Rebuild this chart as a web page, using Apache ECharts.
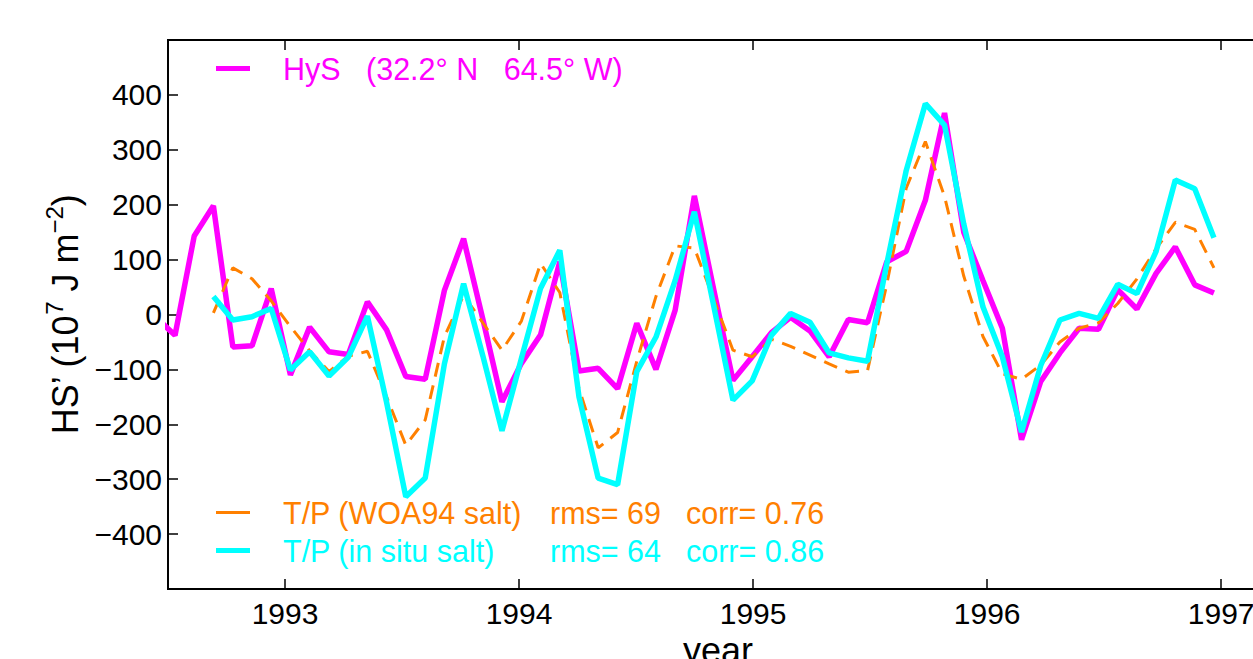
<!DOCTYPE html>
<html><head><meta charset="utf-8">
<script src="https://cdn.jsdelivr.net/npm/echarts@6/dist/echarts.min.js"></script>
<style>html,body{margin:0;padding:0;background:#fff;overflow:hidden}#c{width:1290px;height:659px}</style>
</head><body><div id="c"></div>
<script>
// sample times (decimal years)
const times = [1992.448, 1992.530, 1992.612, 1992.694, 1992.777, 1992.859, 1992.941,
  1993.023, 1993.105, 1993.188, 1993.270, 1993.352, 1993.434, 1993.516, 1993.599, 1993.681, 1993.763, 1993.845, 1993.927,
  1994.010, 1994.092, 1994.174, 1994.256, 1994.338, 1994.421, 1994.503, 1994.585, 1994.667, 1994.749, 1994.832, 1994.914, 1994.996,
  1995.078, 1995.160, 1995.243, 1995.325, 1995.407, 1995.489, 1995.571, 1995.654, 1995.736, 1995.818, 1995.900, 1995.982,
  1996.065, 1996.147, 1996.229, 1996.311, 1996.393, 1996.476, 1996.558, 1996.640, 1996.722, 1996.804, 1996.887, 1996.969];
// HyS (32.2N 64.5W)
const hys = [-5, -38, 143, 198, -59, -57, 47, -110, -23, -68, -73, 23, -28, -113, -118, 44, 138, -8, -159, -89, -37, 96,
  -103, -98, -135, -16, -100, 8, 216, 45, -120, -77, -33, -5, -30, -77, -9, -15, 96, 115, 208, 367, 150, 62, -25, -228,
  -122, -70, -25, -27, 45, 10, 75, 123, 54, 39];
// T/P (WOA94 salt)
const tpWoa = [null, null, null, 3, 85, 65, 25, -22, -66, -104, -76, -67, -150, -238, -192, -40, 35, -15, -65, -12, 93, 40,
  -135, -243, -215, -85, 33, 125, 121, 28, -65, -77, -45, -58, -74, -90, -105, -102, 55, 230, 315, 215, 70, -40, -108, -118,
  -92, -50, -25, -15, 20, 65, 120, 168, 155, 85];
// T/P (in situ salt)
const tpInSitu = [null, null, null, 33, -10, -4, 11, -101, -68, -112, -78, -3, -160, -332, -298, -90, 56, -75, -212, -80, 48, 117,
  -150, -298, -310, -104, -41, 62, 187, 15, -156, -121, -38, 2, -14, -70, -79, -85, 92, 262, 384, 345, 165, 14, -77, -214,
  -93, -10, 2, -7, 55, 38, 115, 245, 229, 140];
const yearTicks = [1993, 1994, 1995, 1996, 1997];
const hysLabel = 'HyS   (32.2° N   64.5° W)';
const woaStats = ['rms= 69', 'corr= 0.76'];
const situStats = ['rms= 64', 'corr= 0.86'];

const FONT = "'Liberation Sans', Arial, Helvetica, sans-serif";
const FS = 30;
const FS_LEG = 30.5;
const FS_NAME = 36;
const C_HYS = '#ff00ff', C_WOA = '#ff8000', C_SITU = '#00ffff';

const pair = arr => times.map((t, i) => [t, arr[i]]);

const chart = echarts.init(document.getElementById('c'), null, {renderer: 'svg'});
function legendRich(color){
  const b = {fontSize: FS_LEG, color: color, fontFamily: FONT, lineHeight: 32};
  return {
    sp: Object.assign({width: 28}, b),
    n: Object.assign({width: 267}, b),
    r: Object.assign({width: 136}, b),
    c: b
  };
}
function legendCfg(name, top, color, h, fmt){
  return {data: [name], left: 216, top: top, padding: 0, icon: 'rect', itemWidth: 34, itemHeight: h,
    selectedMode: false, textStyle: {color: color, fontSize: FS_LEG, fontFamily: FONT, rich: legendRich(color)},
    formatter: fmt};
}
chart.setOption({
  animation: false,
  backgroundColor: '#fff',
  grid: {left: 168, top: 40, right: 22, bottom: 70, show: true, borderColor: '#000', borderWidth: 1.8,
    containLabel: false, outerBoundsMode: 'none'},
  legend: [
    legendCfg('HyS', 53, C_HYS, 5, () => '{sp| }{c|' + hysLabel + '}'),
    legendCfg('T/P (WOA94 salt)', 497, C_WOA, 3, name => '{sp| }{n|' + name + '}{r|' + woaStats[0] + '}{c|' + woaStats[1] + '}'),
    legendCfg('T/P (in situ salt)', 535, C_SITU, 5, name => '{sp| }{n|' + name + '}{r|' + situStats[0] + '}{c|' + situStats[1] + '}')
  ],
  xAxis: [{
    type: 'value', min: 1992.5, max: 1997.2, position: 'bottom',
    axisLine: {show: true, onZero: false, lineStyle: {color: '#000', width: 1.8}},
    axisTick: {show: true, inside: true, length: 10, customValues: yearTicks, lineStyle: {color: '#000', width: 1.5}},
    axisLabel: {show: true, customValues: yearTicks, formatter: v => String(v), margin: 9, fontSize: FS, color: '#000', fontFamily: FONT},
    splitLine: {show: false},
    name: 'year', nameLocation: 'middle', nameGap: 36,
    nameTextStyle: {fontSize: FS_NAME, color: '#000', fontFamily: FONT, verticalAlign: 'top'}
  }, {
    type: 'value', min: 1992.5, max: 1997.2, position: 'top',
    axisLine: {show: true, onZero: false, lineStyle: {color: '#000', width: 1.8}},
    axisTick: {show: true, inside: true, length: 10, customValues: yearTicks, lineStyle: {color: '#000', width: 1.5}},
    axisLabel: {show: false}, splitLine: {show: false}
  }],
  yAxis: {
    type: 'value', min: -500, max: 500, interval: 100,
    axisLine: {show: true, onZero: false, lineStyle: {color: '#000', width: 1.8}},
    axisTick: {show: true, inside: true, length: 10, lineStyle: {color: '#000', width: 1.5}},
    axisLabel: {margin: 6, fontSize: FS, color: '#000', fontFamily: FONT,
      formatter: v => Math.abs(v) === 500 ? '' : (v < 0 ? '\u2212' + Math.abs(v) : String(v))},
    splitLine: {show: false},
    name: 'HS\u2019 (10{sup|7} J m{sup|\u22122})', nameLocation: 'middle', nameGap: 73, nameRotate: 90,
    nameTextStyle: {fontSize: FS_NAME, color: '#000', fontFamily: FONT,
      rich: {sup: {fontSize: 24, color: '#000', fontFamily: FONT, padding: [0, 0, 22, 0]}}}
  },
  series: [
    {name: 'HyS', type: 'line', data: pair(hys), showSymbol: false, symbol: 'none', clip: true,
     lineStyle: {color: C_HYS, width: 5.5}, itemStyle: {color: C_HYS}, z: 2},
    {name: 'T/P (WOA94 salt)', type: 'line', data: pair(tpWoa), showSymbol: false, symbol: 'none', clip: true,
     lineStyle: {color: C_WOA, width: 3, type: [14, 9]}, itemStyle: {color: C_WOA}, z: 3},
    {name: 'T/P (in situ salt)', type: 'line', data: pair(tpInSitu), showSymbol: false, symbol: 'none', clip: true,
     lineStyle: {color: C_SITU, width: 5.5}, itemStyle: {color: C_SITU}, z: 4}
  ]
});
</script>
</body></html>
